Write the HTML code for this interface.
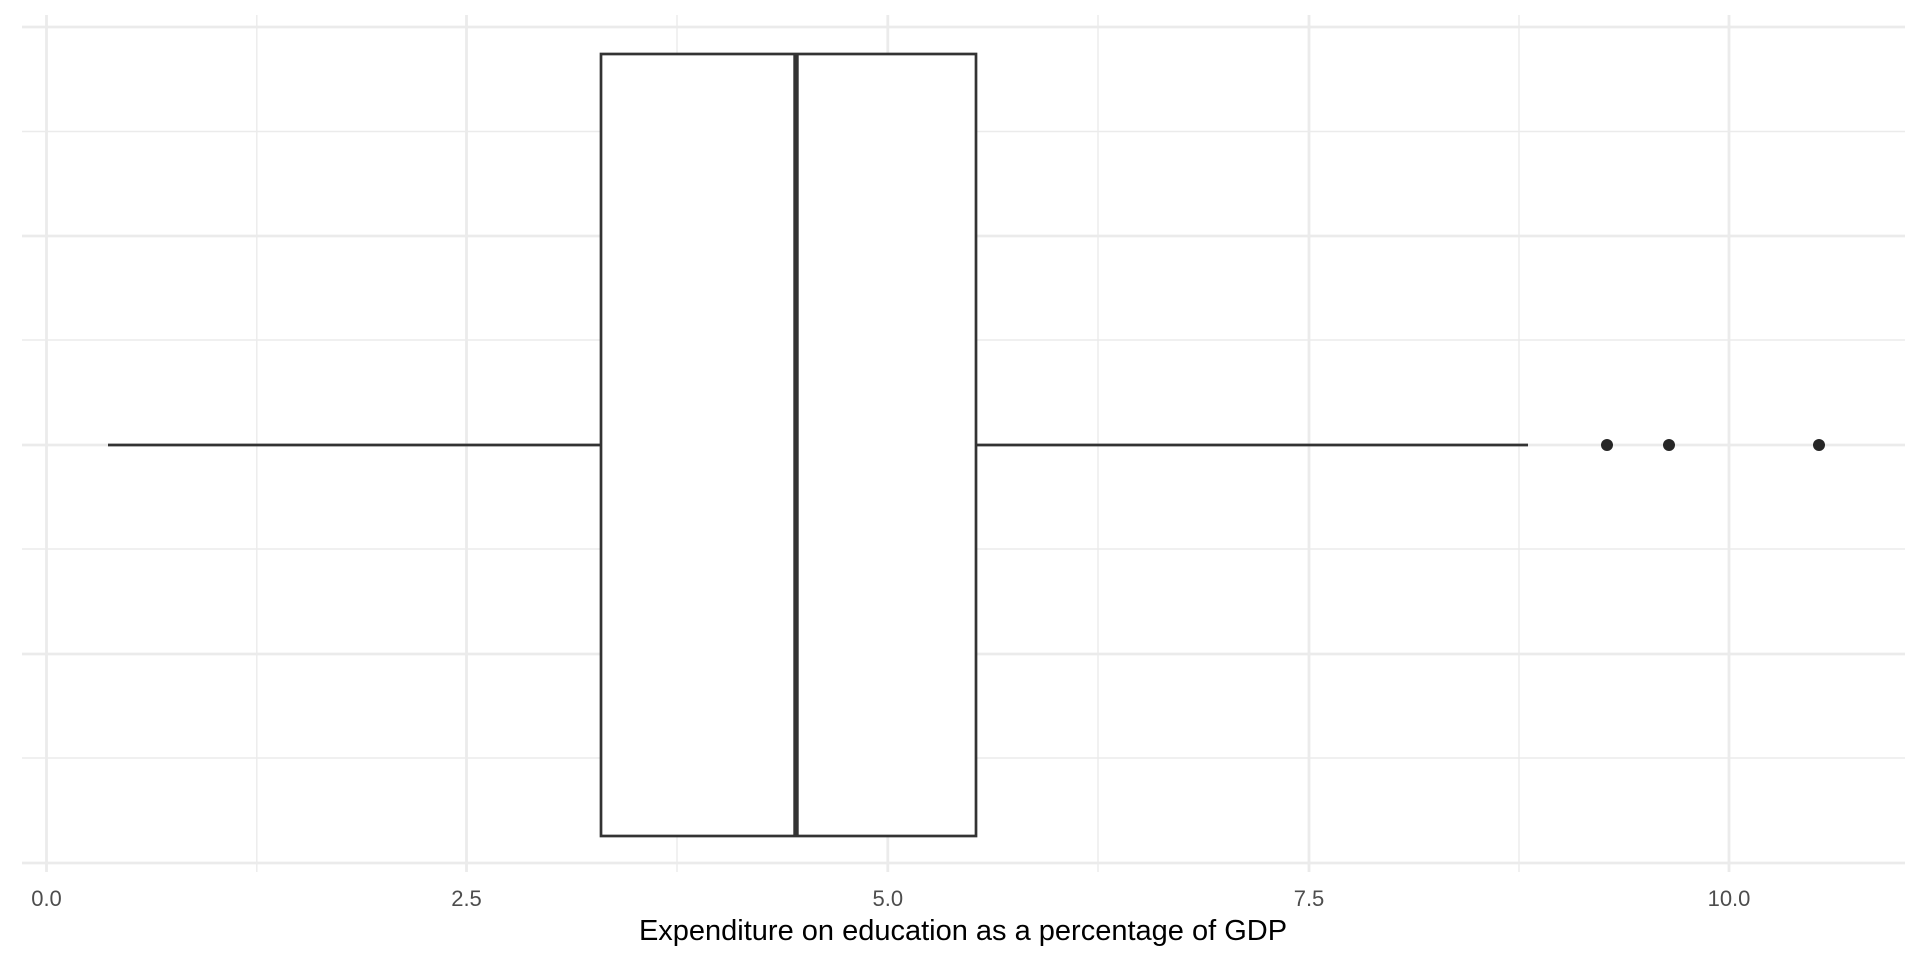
<!DOCTYPE html>
<html><head><meta charset="utf-8"><style>html,body{margin:0;padding:0;background:#fff}</style></head><body>
<svg width="1920" height="960" xmlns="http://www.w3.org/2000/svg" font-family="Liberation Sans, sans-serif">
<rect width="1920" height="960" fill="#fff"/>
<g stroke="#ebebeb" stroke-width="1.4">
<line x1="256.8" y1="15" x2="256.8" y2="872"/>
<line x1="677" y1="15" x2="677" y2="872"/>
<line x1="1098" y1="15" x2="1098" y2="872"/>
<line x1="1519" y1="15" x2="1519" y2="872"/>
<line x1="22" y1="131.5" x2="1905" y2="131.5"/>
<line x1="22" y1="340" x2="1905" y2="340"/>
<line x1="22" y1="549" x2="1905" y2="549"/>
<line x1="22" y1="758" x2="1905" y2="758"/>
</g>
<g stroke="#ebebeb" stroke-width="2.8">
<line x1="46.5" y1="15" x2="46.5" y2="872"/>
<line x1="466.5" y1="15" x2="466.5" y2="872"/>
<line x1="887.8" y1="15" x2="887.8" y2="872"/>
<line x1="1309" y1="15" x2="1309" y2="872"/>
<line x1="1729" y1="15" x2="1729" y2="872"/>
<line x1="22" y1="27" x2="1905" y2="27"/>
<line x1="22" y1="236" x2="1905" y2="236"/>
<line x1="22" y1="445" x2="1905" y2="445"/>
<line x1="22" y1="654" x2="1905" y2="654"/>
<line x1="22" y1="863" x2="1905" y2="863"/>
</g>
<g stroke="#333" stroke-width="2.7" fill="none">
<line x1="108" y1="445" x2="601" y2="445"/>
<line x1="976" y1="445" x2="1528" y2="445"/>
<rect x="601" y="54" width="375" height="782" fill="#fff"/>
<line x1="796" y1="54" x2="796" y2="836" stroke-width="5.4"/>
</g>
<g fill="#262626">
<circle cx="1607" cy="445" r="6"/>
<circle cx="1669" cy="445" r="6"/>
<circle cx="1819" cy="445" r="6"/>
</g>
<g fill="#4d4d4d" font-size="22" text-anchor="middle">
<text x="46.5" y="906">0.0</text>
<text x="466.5" y="906">2.5</text>
<text x="887.8" y="906">5.0</text>
<text x="1309" y="906">7.5</text>
<text x="1729" y="906">10.0</text>
</g>
<text x="963" y="940" font-size="29" text-anchor="middle" fill="#000">Expenditure on education as a percentage of GDP</text>
</svg>
</body></html>
